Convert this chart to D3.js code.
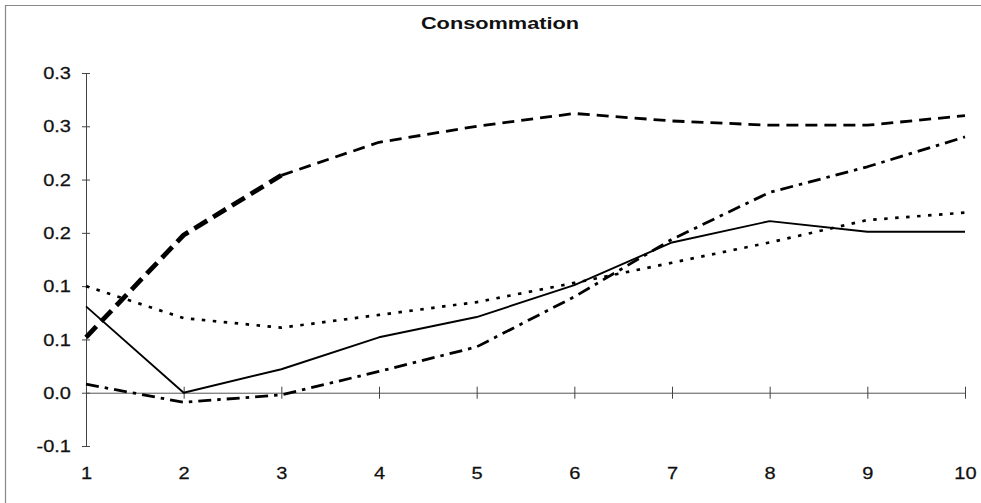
<!DOCTYPE html>
<html><head><meta charset="utf-8">
<script src="https://cdn.jsdelivr.net/npm/d3@7"></script>
<style>body{margin:0;background:#fff}svg{display:block}</style>
</head><body>
<svg id="c" width="981" height="503"></svg>
<script>
const periods = [1,2,3,4,5,6,7,8,9,10];
const solidSeries   = [0.081, 0.000, 0.022, 0.052, 0.071, 0.101, 0.141, 0.161, 0.151, 0.151];
const dashedSeries  = [0.052, 0.148, 0.204, 0.235, 0.250, 0.262, 0.255, 0.251, 0.251, 0.260];
const dottedSeries  = [0.100, 0.070, 0.061, 0.073, 0.085, 0.103, 0.122, 0.141, 0.162, 0.169];
const dashDotSeries = [0.008, -0.009, -0.002, 0.020, 0.043, 0.090, 0.144, 0.188, 0.212, 0.240];
const yTickValues = [-0.05, 0, 0.05, 0.1, 0.15, 0.2, 0.25, 0.3];
const yTickLabels = ["-0.1","0.0","0.1","0.1","0.2","0.2","0.3","0.3"];
const title = "Consommation";

const svg = d3.select("#c");
const x = d3.scaleLinear().domain([1,10]).range([86,965]);
const y = d3.scaleLinear().domain([-0.05,0.3]).range([446,73]);
const FONT = "Liberation Sans, Arial, sans-serif";

// frame
svg.append("path").attr("d","M5.5,503 L5.5,5.5 L981,5.5").attr("fill","none").attr("stroke","#888").attr("stroke-width",1.2);

// title
svg.append("text").attr("transform","translate(500,29) scale(1.36,1)")
  .attr("text-anchor","middle").attr("font-family",FONT)
  .attr("font-weight","bold").attr("font-size",16).attr("fill","#111").text(title);

// y axis
const yAxis = svg.append("g").attr("transform","translate(86,0)")
  .call(d3.axisLeft(y).tickValues(yTickValues).tickSizeInner(4).tickSizeOuter(0).tickPadding(0)
    .tickFormat((d,i)=>yTickLabels[i]));
yAxis.select(".domain").attr("stroke","#444");
yAxis.selectAll(".tick line").attr("x1",4).attr("stroke","#444");
yAxis.selectAll(".tick text").remove();
yAxis.selectAll(".tick").append("text")
  .attr("transform","translate(-15,0) scale(1.25,1)")
  .attr("text-anchor","end").attr("dy","0.35em")
  .attr("font-family",FONT).attr("font-size",16).attr("fill","#111")
  .attr("stroke","#111").attr("stroke-width",0.25)
  .text((d,i)=>yTickLabels[i]);

// zero line with crossing ticks
const zAxis = svg.append("g").attr("transform",`translate(0,${y(0)})`)
  .call(d3.axisBottom(x).tickValues(periods).tickSizeInner(6).tickSizeOuter(0).tickFormat(""));
zAxis.select(".domain").attr("stroke","#555");
zAxis.selectAll(".tick line").attr("y1",-6).attr("stroke","#444");

// x labels
const xLab = svg.append("g").attr("transform","translate(0,462)")
  .call(d3.axisBottom(x).tickValues(periods).tickSize(0).tickPadding(0).tickFormat(d3.format("d")));
xLab.select(".domain").remove();
xLab.selectAll(".tick text").remove();
xLab.selectAll(".tick").append("text")
  .attr("transform","translate(0,16.5) scale(1.25,1)").attr("text-anchor","middle")
  .attr("font-family",FONT).attr("font-size",16).attr("fill","#111")
  .attr("stroke","#111").attr("stroke-width",0.25)
  .text(d=>d);

const line = d3.line().x(d=>x(d[0])).y(d=>y(d[1]));
const pts = s => periods.map((p,i)=>[p,s[i]]);

function draw(data, w, dash){
  svg.append("path").datum(data).attr("d",line).attr("fill","none")
    .attr("stroke","#000").attr("stroke-width",w).attr("stroke-dasharray",dash)
    .attr("stroke-linejoin","round");
}
draw(pts(solidSeries), 1.9, null);
draw(pts(dottedSeries), 2.7, "3.5,7.5");
draw(pts(dashDotSeries), 2.8, "13,6,3.5,6");
const dp = pts(dashedSeries);
draw(dp.slice(0,3), 4.8, "15,7");
draw(dp.slice(2), 2.8, "12,7");
</script>
</body></html>
